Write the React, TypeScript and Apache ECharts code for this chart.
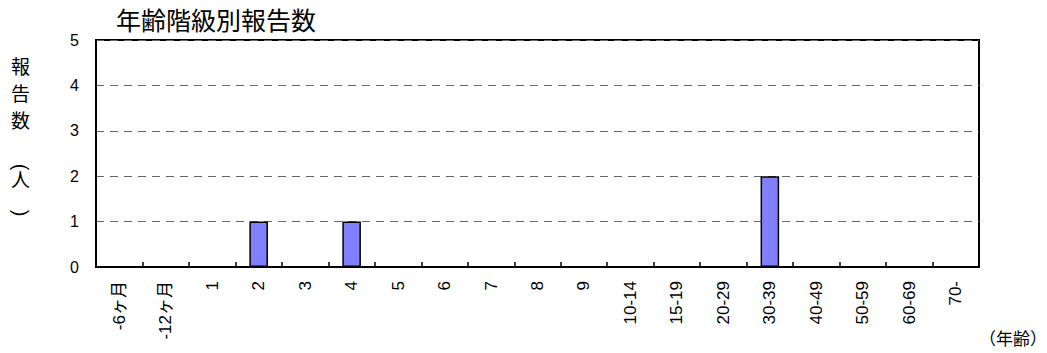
import React, { useEffect, useRef } from "react";
import * as echarts from "echarts";

const categories = ["-6ヶ月", "-12ヶ月", "1", "2", "3", "4", "5", "6", "7", "8", "9", "10-14", "15-19", "20-29", "30-39", "40-49", "50-59", "60-69", "70-"];
const values = [0, 0, 0, 1, 0, 1, 0, 0, 0, 0, 0, 0, 0, 0, 2, 0, 0, 0, 0];
const titleText = "年齢階級別報告数";
const yNameTop = "報\n告\n数";
const yNameUnit = "人";
const yNameOpen = "(";
const yNameClose = ")";
const xName = "（年齢）";

const FONT = "'Liberation Sans', Arial, 'Noto Sans CJK JP', sans-serif";

export default function App() {
  const ref = useRef<HTMLDivElement>(null);
  useEffect(() => {
    document.body.style.margin = "0";
    const chart = echarts.init(ref.current!, null, { renderer: "svg" });
    const t = (size: number, lh?: number) => ({
      fontSize: size,
      fontWeight: "normal",
      color: "#000",
      fontFamily: FONT,
      ...(lh ? { lineHeight: lh } : {}),
    });
    chart.setOption({
      animation: false,
      backgroundColor: "#fff",
      textStyle: { fontFamily: FONT },
      title: [
        { text: titleText, left: 116, top: 8, padding: 0, textStyle: t(25) },
        { text: yNameTop, left: 11, top: 54, padding: 0, textStyle: t(19, 27) },
        { text: yNameUnit, left: 11, top: 169, padding: 0, textStyle: t(19, 22) },
        { text: xName, left: 979, top: 331, padding: 0, textStyle: t(17) },
      ],
      graphic: [
        {
          type: "text",
          x: 21,
          y: 167,
          rotation: -Math.PI / 2,
          style: { text: yNameOpen, fontSize: 20, fontFamily: FONT, fill: "#000", align: "center", verticalAlign: "middle" },
        },
        {
          type: "text",
          x: 21,
          y: 213,
          rotation: -Math.PI / 2,
          style: { text: yNameClose, fontSize: 20, fontFamily: FONT, fill: "#000", align: "center", verticalAlign: "middle" },
        },
      ],
      grid: {
        left: 96,
        right: 68,
        top: 40,
        bottom: 86,
        show: true,
        borderColor: "#000",
        borderWidth: 2,
        backgroundColor: "transparent",
      },
      xAxis: {
        type: "category",
        data: categories,
        boundaryGap: true,
        axisLine: { show: true, lineStyle: { color: "#000", width: 2 } },
        axisTick: { show: true, inside: true, length: 5, alignWithLabel: false, lineStyle: { color: "#000", width: 1.5 } },
        axisLabel: { rotate: 90, margin: 14, fontSize: 17, color: "#000", interval: 0, fontFamily: FONT },
        splitLine: { show: false },
      },
      yAxis: {
        type: "value",
        min: 0,
        max: 5,
        interval: 1,
        axisLine: { show: true, lineStyle: { color: "#000", width: 2 } },
        axisTick: { show: false },
        axisLabel: { margin: 17, fontSize: 16, color: "#000", fontFamily: FONT },
        splitLine: { show: true, lineStyle: { color: "#666", width: 1, type: [8, 6] } },
      },
      series: [
        {
          type: "bar",
          data: values,
          barWidth: "40%",
          itemStyle: { color: "#8080ff", borderColor: "#000", borderWidth: 1.5 },
        },
      ],
    });
    return () => chart.dispose();
  }, []);
  return <div ref={ref} style={{ width: 1047, height: 353 }} />;
}
